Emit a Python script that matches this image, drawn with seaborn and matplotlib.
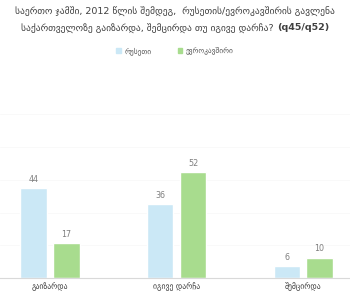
import matplotlib
matplotlib.use("Agg")
import matplotlib.pyplot as plt
import seaborn as sns
import pandas as pd
from matplotlib.ticker import MultipleLocator
from matplotlib.patches import Patch

categories = ["გაიზარდა", "იგივე დარჩა", "შემცირდა"]
series_names = ["რუსეთი", "ევროკავშირი"]
russia = [44, 36, 6]
eu = [17, 52, 10]

title_line1 = "საერთო ჯამში, 2012 წლის შემდეგ,  რუსეთის/ევროკავშირის გავლენა"
title_line2a = "საქართველოზე გაიზარდა, შემცირდა თუ იგივე დარჩა? "
title_line2b = "(q45/q52)"

df = pd.DataFrame({
    "cat": categories * 2,
    "series": [series_names[0]] * 3 + [series_names[1]] * 3,
    "val": russia + eu,
})

sns.set_theme(style="white")
plt.rcParams['font.family'] = ['DejaVu Sans']

fig = plt.figure(figsize=(3.5, 2.95), dpi=100)
ax = fig.add_axes([0.0, 0.0576, 1.0, 0.603])
palette = {series_names[0]: "#cbe8f6", series_names[1]: "#a8dc8e"}
sns.barplot(data=df, x="cat", y="val", hue="series", order=categories,
            hue_order=series_names, palette=palette, width=0.52, gap=0.2,
            saturation=1, ax=ax, legend=False)

for cont in ax.containers:
    ax.bar_label(cont, padding=3, fontsize=5.8, color="#7f7f7f")

ax.set_xlim(-0.395, 2.37)
ax.set_ylim(0, 87)
ax.yaxis.set_major_locator(MultipleLocator(16))
ax.grid(axis="y", color="#f8f8f8", linewidth=0.6)
ax.set_axisbelow(True)
ax.set_yticklabels([])
ax.tick_params(axis="y", length=0)
ax.tick_params(axis="x", length=0, labelsize=5.6, labelcolor="#404040", pad=3)
ax.set_xlabel("")
ax.set_ylabel("")
for s in ["top", "left", "right"]:
    ax.spines[s].set_visible(False)
ax.spines["bottom"].set_color("#d9d9d9")
ax.spines["bottom"].set_linewidth(0.8)

# title
tc = "#404040"
fig.text(0.5, 1 - 11 / 295, title_line1, ha="center", va="center", fontsize=6.8, color=tc)
fig.canvas.draw()
r = fig.canvas.get_renderer()
ta = fig.text(0, 1 - 28 / 295, title_line2a, ha="left", va="center", fontsize=6.8, color=tc)
tb = fig.text(0, 1 - 28 / 295, title_line2b, ha="left", va="center", fontsize=6.8, color=tc, weight="bold")
wa = ta.get_window_extent(r).width
wb = tb.get_window_extent(r).width
W = fig.bbox.width
x0 = (W - wa - wb) / 2
ta.set_x(x0 / W)
tb.set_x((x0 + wa) / W)

# legend
handles = [Patch(color=palette[n]) for n in series_names]
fig.legend(handles, series_names, loc="center", bbox_to_anchor=(0.5, 1 - 51 / 295),
           ncol=2, frameon=False, fontsize=5.3, handlelength=0.6, handleheight=0.6,
           columnspacing=3.6, handletextpad=0.5, labelcolor="#595959")

fig.savefig("out.png", dpi=100)
